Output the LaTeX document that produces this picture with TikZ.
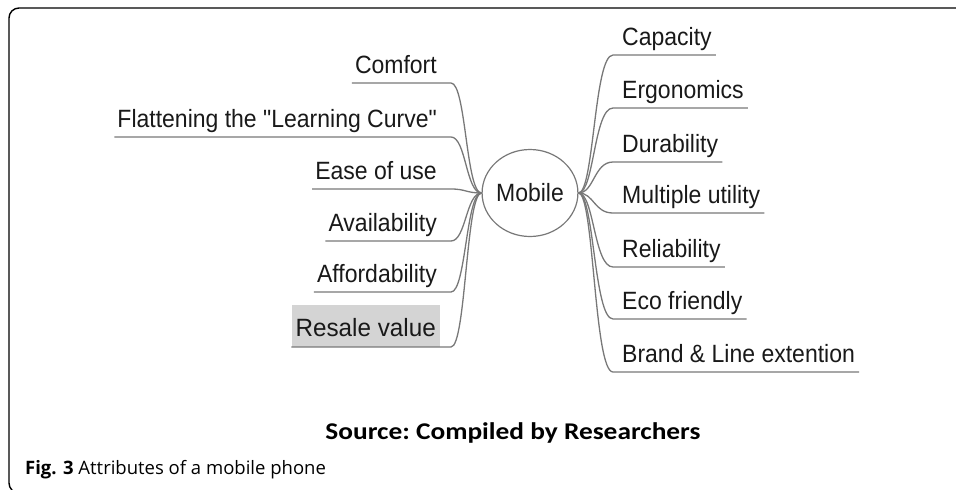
\documentclass[tikz,border=0pt]{standalone}
\usepackage{graphicx}
\usepackage{fontspec}
\setmainfont{Liberation Sans}[Ligatures=TeXOff]
\newfontfamily\capfont{Carlito}
\newfontfamily\figfont{Open Sans}
\usetikzlibrary{shapes.geometric}
\definecolor{linegray}{RGB}{120,120,120}
\definecolor{textgray}{RGB}{25,25,25}
\definecolor{boxgray}{RGB}{212,212,212}
\newcommand{\nartxt}[1]{\scalebox{0.92}[1]{#1}}
\tikzset{
  leaf/.style={font=\fontsize{25}{29}\selectfont, text=textgray, inner xsep=3pt, inner ysep=4pt, text height=18pt, text depth=5pt},
  lleaf/.style={leaf, anchor=south east},
  rleaf/.style={leaf, anchor=south west, inner xsep=4pt},
  branch/.style={draw=linegray, line width=1.3pt},
  frame/.style={draw=black, line width=1.4pt, rounded corners=10pt},
}
\begin{document}
\begin{tikzpicture}[x=1pt,y=-1pt]
\useasboundingbox (0,0) rectangle (956,490);
\draw[frame] (970,8) -- (9,8) -- (9,493) -- (970,493);
% centre
\node[draw=linegray, line width=1.2pt, ellipse, minimum width=95pt, minimum height=87pt, inner sep=0pt,
      font=\fontsize{25}{29}\selectfont, text=textgray] (mobile) at (530,193) {\nartxt{Mobile}};
% left leaves
\node[lleaf] (comfort) at (440,83) {\nartxt{Comfort}};
\node[lleaf] (flatten) at (440,137) {\nartxt{Flattening the \symbol{34}Learning Curve\symbol{34}}};
\node[lleaf] (ease) at (440,189) {\nartxt{Ease of use}};
\node[lleaf] (avail) at (440,241) {\nartxt{Availability}};
\node[lleaf] (afford) at (440,292) {\nartxt{Affordability}};
\node[lleaf, fill=boxgray, inner xsep=4pt, text height=28pt, text depth=6pt] (resale) at (440,347) {\scalebox{0.97}[1]{Resale value}};
\foreach \n/\y in {comfort/83, flatten/137, ease/189, avail/241, afford/292, resale/347}{
  \coordinate (\n-end) at (451,\y);
  \draw[branch] (\n.south west) -- (\n-end) .. controls (466,\y) and (466,193) .. (mobile.west);
}
% right leaves
\node[rleaf] (capacity) at (618,55) {\nartxt{Capacity}};
\node[rleaf] (ergo) at (618,108) {\nartxt{Ergonomics}};
\node[rleaf] (dura) at (618,162) {\nartxt{Durability}};
\node[rleaf] (multi) at (618,213) {\nartxt{Multiple utility}};
\node[rleaf] (reli) at (618,267) {\nartxt{Reliability}};
\node[rleaf] (eco) at (618,319) {\nartxt{Eco friendly}};
\node[rleaf] (brand) at (618,372) {\nartxt{Brand \& Line extention}};
\foreach \n/\y in {capacity/55, ergo/108, dura/162, multi/213, reli/267, eco/319, brand/372}{
  \coordinate (\n-start) at (613,\y);
  \draw[branch] (mobile.east) .. controls (594,193) and (594,\y) .. (\n-start) -- (\n.south east);
}
% captions
\node[font=\capfont\bfseries\fontsize{24}{28}\selectfont, text=black, anchor=base, inner sep=0pt] (source) at (513,439) {\frenchspacing\scalebox{1.14}[1]{Source: Compiled by Researchers}};
\node[font=\figfont\fontsize{18.5}{22}\selectfont, text=black, anchor=base west, inner sep=0pt] (fig) at (25,474) {\textbf{Fig. 3} Attributes of a mobile phone};
\end{tikzpicture}
\end{document}
